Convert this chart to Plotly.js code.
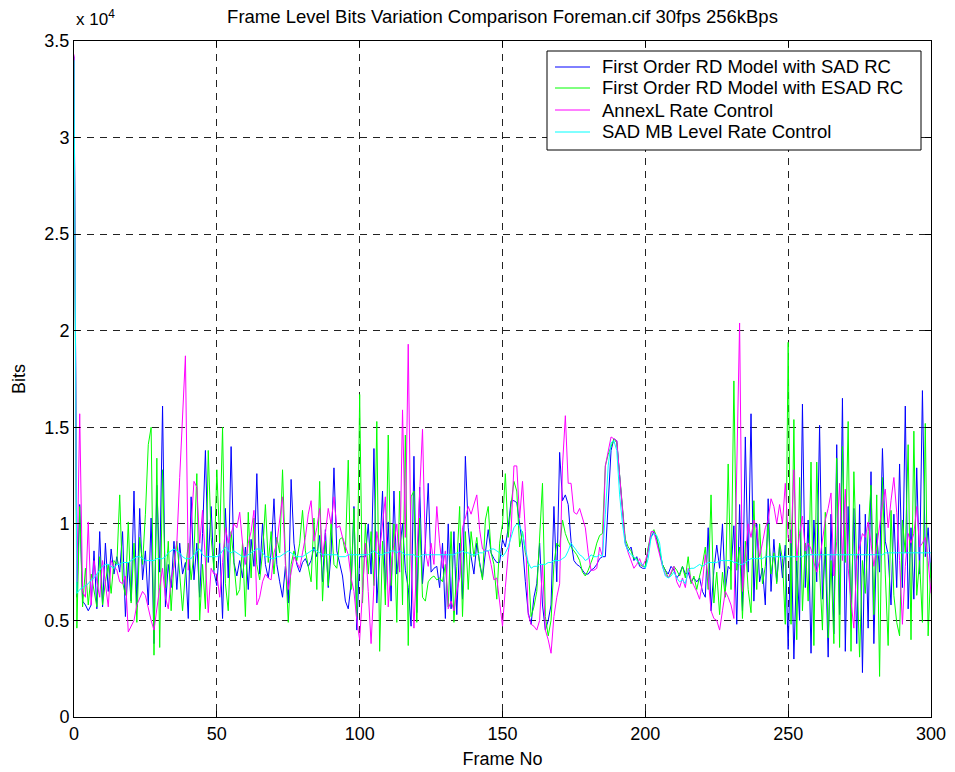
<!DOCTYPE html>
<html>
<head>
<meta charset="utf-8">
<script src="https://cdn.plot.ly/plotly-3.0.1.min.js"></script>
<style>
  html, body { margin: 0; padding: 0; background: #fff; }
  #chart { width: 955px; height: 772px; }
</style>
</head>
<body>
<div id="chart"></div>
<script>
// Bits per frame, in units of 10^4 bits (frames 0..300)
const seriesNames = [
  'First Order RD Model with SAD RC',
  'First Order RD Model with ESAD RC',
  'AnnexL Rate Control',
  'SAD MB Level Rate Control'
];

const sadRC = [
  3.42,0.62,1.10,0.60,0.58,0.55,0.58,0.86,0.56,0.96,
  0.57,0.90,0.65,0.87,0.74,0.83,0.75,0.96,0.52,0.80,
  0.60,1.17,0.57,1.08,0.71,0.86,0.58,1.03,0.38,1.20,
  0.75,1.61,0.57,0.79,0.67,0.91,0.66,0.90,0.74,0.80,
  0.51,1.14,0.71,0.90,0.62,0.95,1.38,0.80,1.09,0.75,
  0.68,0.90,0.51,1.08,0.72,1.40,0.80,0.73,0.81,0.72,
  0.88,0.66,0.92,0.78,1.26,0.74,1.00,0.79,0.72,0.85,
  1.13,0.79,0.70,0.62,0.78,0.59,1.23,0.90,0.79,0.75,
  0.80,0.82,0.78,0.81,0.88,0.83,0.94,0.70,0.97,0.67,
  0.85,1.29,0.86,0.79,0.73,0.60,0.56,0.69,1.09,0.45,
  0.83,0.83,0.83,1.00,0.74,1.39,0.59,0.83,1.17,0.66,
  1.01,0.60,1.17,0.74,0.87,1.00,0.76,0.67,0.47,1.35,
  0.54,1.19,0.69,0.90,1.21,0.75,0.77,0.78,0.67,0.90,
  0.51,1.00,0.56,0.96,0.53,0.90,0.61,1.35,0.98,0.83,
  0.74,0.90,0.80,0.72,0.85,0.97,0.85,0.82,0.80,0.80,
  0.92,0.88,0.98,1.12,1.12,1.11,1.00,0.89,0.70,0.54,
  0.48,0.62,0.69,0.90,0.58,0.45,0.50,0.58,1.09,0.70,
  1.37,1.12,1.15,1.10,0.91,0.81,0.79,0.78,0.76,0.74,
  0.74,0.76,0.77,0.79,0.82,0.83,0.83,1.14,1.38,1.44,
  1.43,1.25,1.07,0.90,0.86,0.88,0.81,0.83,0.78,0.77,
  0.77,0.87,0.93,0.96,0.92,0.86,0.79,0.76,0.74,0.78,
  0.76,0.72,0.74,0.78,0.74,0.75,0.70,0.72,0.70,0.72,
  0.65,0.62,0.98,0.55,0.76,0.89,0.77,1.00,0.66,0.78,
  0.76,0.99,0.48,1.10,0.55,1.45,0.75,1.57,0.60,1.00,
  0.70,0.77,0.58,1.13,0.65,0.92,0.70,0.89,0.72,0.89,
  0.35,0.97,0.30,0.81,0.50,1.62,0.67,1.02,0.33,1.02,
  0.70,1.51,0.61,0.88,0.31,1.05,0.43,1.41,0.53,1.65,
  0.34,1.09,0.50,1.08,0.38,1.10,0.23,1.05,0.46,1.27,
  0.38,0.95,0.75,1.39,0.91,0.84,0.58,1.05,0.67,1.31,
  0.67,1.61,0.56,0.98,0.61,1.29,0.74,1.69,0.83,0.98,
  0.72
];

const esadRC = [
  3.40,0.46,1.09,0.57,0.77,0.58,0.74,0.65,0.57,0.83,
  0.58,0.70,0.79,0.64,0.81,0.79,1.15,0.70,0.63,1.01,
  0.59,0.90,0.49,0.93,0.79,1.05,1.41,1.50,0.32,1.34,
  0.36,1.28,0.67,0.91,0.55,0.80,0.91,0.74,0.55,0.75,
  0.90,0.71,0.85,1.26,0.50,0.79,0.56,1.38,0.93,0.76,
  1.28,0.90,1.50,0.69,0.55,0.96,0.79,0.63,0.66,0.90,
  0.52,1.06,0.72,1.03,0.79,0.71,0.85,1.10,0.80,0.96,
  0.74,0.93,0.85,1.28,0.83,0.49,0.79,0.86,0.81,0.90,
  1.07,0.86,0.78,0.70,1.03,0.66,1.22,0.60,0.91,0.68,
  1.02,0.79,0.77,0.92,0.93,0.85,1.33,0.66,1.08,0.52,
  1.67,0.59,1.00,0.74,0.96,0.68,1.53,0.34,0.91,0.58,
  1.46,0.68,1.00,0.49,1.17,0.58,1.46,0.37,1.14,1.17,
  0.49,1.03,0.62,0.60,0.70,0.72,0.73,0.71,0.72,0.70,
  0.79,0.57,0.96,0.49,0.78,1.09,0.52,0.96,0.66,0.96,
  0.83,0.93,0.79,0.71,1.02,1.09,0.85,0.79,0.61,0.90,
  1.00,1.26,0.93,1.10,1.22,1.17,0.88,0.96,0.85,0.79,
  0.52,0.57,0.65,0.90,1.21,0.52,0.42,0.50,0.79,0.90,
  0.88,1.02,0.95,0.91,0.88,0.86,0.84,0.81,0.75,0.73,
  0.76,0.80,0.84,0.90,0.94,0.95,1.30,1.36,1.40,1.44,
  1.42,1.25,1.07,0.92,0.88,0.86,0.82,0.82,0.79,0.78,
  0.78,0.88,0.95,0.97,0.93,0.85,0.79,0.76,0.72,0.74,
  0.78,0.76,0.73,0.78,0.72,0.83,0.69,0.73,0.66,0.73,
  0.79,0.88,0.66,1.15,0.59,0.75,0.53,0.75,0.62,1.31,
  0.66,1.74,0.76,0.88,0.51,0.91,0.66,0.54,1.12,0.66,
  1.00,0.69,0.78,1.00,0.74,0.85,0.69,0.90,0.82,0.48,
  1.94,0.48,1.54,0.40,1.24,0.55,0.90,0.60,1.32,0.37,
  1.32,0.76,0.45,1.06,0.41,0.81,0.38,1.34,0.36,1.40,
  0.80,1.53,0.34,1.27,0.78,0.31,0.81,0.64,0.96,1.20,
  0.53,1.15,0.21,1.24,0.74,0.37,1.07,0.63,0.49,0.42,
  1.02,0.85,1.41,0.40,1.48,0.63,0.81,0.49,1.52,0.42,
  0.80
];

const annexL = [
  3.43,0.70,1.57,0.65,0.62,1.01,0.58,0.81,0.70,0.62,
  0.81,0.68,0.57,0.81,0.78,0.76,0.70,0.69,0.73,0.44,
  0.47,0.50,0.58,0.62,0.65,0.63,0.56,0.50,0.45,0.57,
  0.67,0.77,0.62,0.56,0.71,0.78,0.90,1.24,1.55,1.87,
  0.76,1.00,1.22,1.19,0.90,1.07,0.80,0.54,0.77,0.74,
  0.74,0.62,0.80,0.98,0.90,0.95,1.00,0.98,1.06,0.90,
  0.79,0.90,0.96,1.07,0.58,0.62,0.70,0.74,0.72,0.71,
  0.85,0.90,1.03,1.14,0.79,0.66,0.75,0.83,0.80,0.77,
  0.85,0.93,1.05,1.12,0.91,0.98,1.08,0.83,0.95,1.08,
  1.00,1.14,0.98,0.99,0.93,0.89,0.84,0.72,0.65,0.50,
  0.40,0.65,0.90,0.65,0.38,0.68,0.96,0.86,1.00,1.14,
  0.57,0.78,0.90,1.00,0.75,1.59,0.93,1.93,0.83,0.46,
  0.83,1.20,1.49,0.86,0.78,0.90,0.79,1.09,0.90,0.77,
  0.86,0.56,0.60,0.55,0.65,0.72,0.98,1.03,1.09,1.05,
  1.10,1.15,0.97,0.87,0.86,0.86,0.79,0.71,0.72,0.60,
  0.47,0.67,0.85,0.96,1.30,1.30,1.03,1.22,0.96,0.53,
  0.48,0.47,0.45,0.50,0.79,0.45,0.40,0.33,0.52,0.62,
  0.69,1.30,1.56,1.21,1.21,1.06,1.05,1.08,1.03,0.98,
  0.85,0.76,0.76,0.77,0.88,0.83,1.30,1.38,1.45,1.44,
  1.43,1.25,1.07,0.90,0.85,0.81,0.77,0.79,0.82,0.78,
  0.81,0.86,0.96,0.96,0.90,0.83,0.78,0.74,0.72,0.75,
  0.78,0.70,0.67,0.72,0.67,0.77,0.71,0.68,0.65,0.61,
  0.70,0.84,0.72,0.55,0.51,0.50,0.45,0.55,0.65,0.62,
  0.58,0.51,1.20,2.04,0.65,0.83,1.00,0.93,1.02,0.97,
  0.83,0.90,0.98,1.02,1.13,1.09,1.00,1.10,1.00,1.21,
  0.93,0.90,1.28,0.81,0.95,1.04,0.86,0.90,0.87,0.80,
  0.75,0.81,0.91,1.02,1.08,1.16,0.73,0.91,1.21,0.81,
  1.18,0.77,0.60,0.46,0.81,0.88,0.95,0.93,1.01,0.90,
  0.78,0.88,1.00,1.10,1.18,0.98,1.12,1.24,1.06,0.81,
  0.48,0.78,0.95,0.90,0.95,1.09,0.88,0.90,0.93,0.81,
  0.64
];

const sadMB = [
  3.40,0.64,0.66,0.67,0.68,0.69,0.71,0.72,0.74,0.76,
  0.78,0.79,0.79,0.78,0.77,0.79,0.79,0.80,0.80,0.80,
  0.81,0.82,0.83,0.83,0.82,0.81,0.81,0.81,0.81,0.82,
  0.82,0.82,0.83,0.85,0.86,0.87,0.86,0.85,0.83,0.82,
  0.82,0.82,0.84,0.86,0.87,0.84,0.83,0.83,0.83,0.83,
  0.83,0.84,0.86,0.88,0.86,0.85,0.86,0.85,0.84,0.83,
  0.83,0.84,0.85,0.86,0.87,0.87,0.85,0.83,0.83,0.82,
  0.82,0.83,0.83,0.84,0.85,0.86,0.85,0.84,0.83,0.83,
  0.83,0.84,0.85,0.86,0.87,0.86,0.85,0.84,0.84,0.84,
  0.84,0.84,0.84,0.83,0.83,0.83,0.84,0.84,0.84,0.84,
  0.84,0.84,0.84,0.84,0.85,0.86,0.85,0.84,0.84,0.85,
  0.85,0.86,0.86,0.85,0.86,0.85,0.84,0.84,0.84,0.84,
  0.83,0.83,0.84,0.84,0.84,0.84,0.84,0.84,0.84,0.84,
  0.84,0.84,0.84,0.84,0.85,0.85,0.86,0.85,0.85,0.84,
  0.84,0.84,0.85,0.85,0.86,0.86,0.87,0.87,0.86,0.85,
  0.83,0.85,0.88,0.93,0.98,1.00,0.99,0.95,0.88,0.80,
  0.77,0.78,0.78,0.79,0.79,0.79,0.80,0.80,0.81,0.81,
  0.81,0.82,0.83,0.86,0.90,0.88,0.86,0.84,0.83,0.81,
  0.82,0.84,0.83,0.83,0.84,0.83,1.05,1.30,1.42,1.43,
  1.38,1.15,1.00,0.89,0.86,0.84,0.83,0.81,0.80,0.79,
  0.77,0.82,0.93,0.95,0.94,0.90,0.78,0.73,0.72,0.73,
  0.75,0.72,0.70,0.71,0.69,0.76,0.77,0.77,0.78,0.79,
  0.78,0.79,0.80,0.80,0.80,0.80,0.81,0.81,0.81,0.81,
  0.81,0.80,0.80,0.79,0.79,0.80,0.81,0.82,0.82,0.82,
  0.82,0.82,0.83,0.83,0.83,0.83,0.83,0.83,0.83,0.83,
  0.83,0.83,0.83,0.83,0.83,0.83,0.84,0.84,0.84,0.84,
  0.84,0.84,0.84,0.84,0.84,0.84,0.84,0.84,0.84,0.84,
  0.84,0.84,0.84,0.84,0.84,0.84,0.84,0.84,0.84,0.84,
  0.84,0.84,0.84,0.84,0.85,0.85,0.85,0.85,0.85,0.85,
  0.85,0.85,0.85,0.85,0.85,0.85,0.85,0.85,0.85,0.85,
  0.85
];

const xTickVals = [0, 50, 100, 150, 200, 250, 300];
const yTickVals = [0, 0.5, 1, 1.5, 2, 2.5, 3, 3.5];
const yTickText = ['0', '0.5', '1', '1.5', '2', '2.5', '3', '3.5'];

const colors = ['#0000ff', '#00ff00', '#ff00ff', '#00ffff'];
const seriesData = [sadRC, esadRC, annexL, sadMB];

const traces = seriesData.map((ys, i) => ({
  type: 'scatter',
  mode: 'lines',
  y: ys,
  x0: 0,
  dx: 1,
  name: seriesNames[i],
  line: { color: colors[i], width: 1 },
  showlegend: false
}));

const FONT = 'Liberation Sans, Arial, Helvetica, sans-serif';

// plot-area geometry (pixels) used only to place the legend box in paper units
const M = { l: 74, r: 24, t: 41, b: 55 };
const PW = 955 - M.l - M.r, PH = 772 - M.t - M.b;
const px2x = p => (p - M.l) / PW;
const py2y = p => (772 - M.b - p) / PH;

const axisCommon = {
  showgrid: true,
  gridcolor: '#222',
  griddash: '7px,6px',
  gridwidth: 1,
  ticks: 'inside',
  ticklen: 6,
  tickwidth: 1,
  tickcolor: '#000',
  showline: true,
  linecolor: '#000',
  linewidth: 1,
  mirror: 'allticks',
  zeroline: false,
  tickfont: { family: FONT, size: 18, color: '#000' }
};

// Legend drawn as a boxed key (MATLAB style)
const legendRows = [67, 88, 110, 132];
const shapes = [{
  type: 'rect', xref: 'paper', yref: 'paper', layer: 'above',
  x0: px2x(547), x1: px2x(921), y0: py2y(150), y1: py2y(51),
  fillcolor: '#fff', line: { color: '#000', width: 1 }
}];
const annotations = [{
  xref: 'paper', yref: 'paper',
  x: 0, y: py2y(18), xanchor: 'left', yanchor: 'middle',
  text: 'x 10<sup>4</sup>', showarrow: false,
  font: { family: FONT, size: 17, color: '#000' }
}];
seriesNames.forEach((name, i) => {
  shapes.push({
    type: 'line', xref: 'paper', yref: 'paper', layer: 'above',
    x0: px2x(555), x1: px2x(590), y0: py2y(legendRows[i]), y1: py2y(legendRows[i]),
    line: { color: colors[i], width: 1 }
  });
  annotations.push({
    xref: 'paper', yref: 'paper',
    x: px2x(600), y: py2y(legendRows[i]), xanchor: 'left', yanchor: 'middle',
    text: name, showarrow: false,
    font: { family: FONT, size: 18.5, color: '#000' }
  });
});

const layout = {
  width: 955,
  height: 772,
  margin: M,
  paper_bgcolor: '#fff',
  plot_bgcolor: '#fff',
  font: { family: FONT, size: 18, color: '#000' },
  showlegend: false,
  title: {
    text: 'Frame Level Bits Variation Comparison Foreman.cif 30fps 256kBps',
    font: { family: FONT, size: 18.5, color: '#000' },
    x: 0.5, xref: 'paper', xanchor: 'center',
    y: 1 - 17 / 772, yref: 'container', yanchor: 'middle'
  },
  xaxis: Object.assign({}, axisCommon, {
    range: [0, 300],
    tickmode: 'array',
    tickvals: xTickVals,
    ticktext: xTickVals.map(String),
    title: { text: 'Frame No', font: { family: FONT, size: 18, color: '#000' }, standoff: 9 }
  }),
  yaxis: Object.assign({}, axisCommon, {
    range: [0, 3.5],
    tickmode: 'array',
    tickvals: yTickVals,
    ticktext: yTickText,
    title: { text: 'Bits', font: { family: FONT, size: 18, color: '#000' }, standoff: 14 }
  }),
  shapes: shapes,
  annotations: annotations
};

Plotly.newPlot('chart', traces, layout, { displayModeBar: false, staticPlot: true });
</script>
</body>
</html>
